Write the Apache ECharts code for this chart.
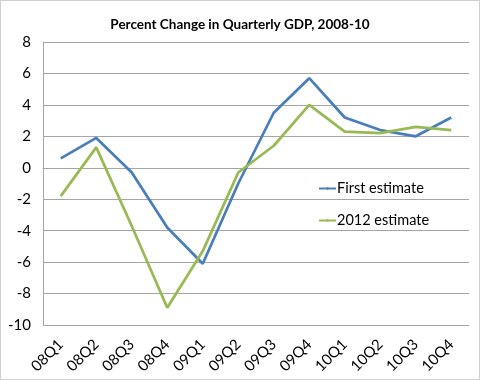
<!DOCTYPE html>
<html><head><meta charset="utf-8">
<script src="https://cdn.jsdelivr.net/npm/echarts@6/dist/echarts.min.js"></script>
<style>html,body{margin:0;padding:0;background:#fff}#c{width:478px;height:378px;border:1px solid #d0d0d0}</style>
</head><body><div id="c"></div>
<script>
var categories = ['08Q1','08Q2','08Q3','08Q4','09Q1','09Q2','09Q3','09Q4','10Q1','10Q2','10Q3','10Q4'];
var firstEstimate = [0.6, 1.9, -0.3, -3.8, -6.1, -1.0, 3.5, 5.7, 3.2, 2.4, 2.0, 3.2];
var estimate2012 = [-1.8, 1.3, -3.7, -8.9, -5.3, -0.3, 1.4, 4.0, 2.3, 2.2, 2.6, 2.4];
var font = 'Lato';
var chart = echarts.init(document.getElementById('c'));
chart.setOption({
  animation: false,
  title: {text: 'Percent Change in Quarterly GDP, 2008-10', left: 'center', top: 12,
    textStyle: {fontFamily: font, fontSize: 13.5, fontWeight: 'bold', color: '#000'}},
  legend: {orient: 'vertical', left: 312, top: 175, itemGap: 17, itemWidth: 17, itemHeight: 3,
    textStyle: {fontFamily: font, fontSize: 14.5, color: '#000', padding: [0,0,0,-4]},
    data: ['First estimate', '2012 estimate']},
  grid: {left: 42, right: 10, top: 41, bottom: 54, containLabel: false},
  xAxis: {type: 'category', data: categories, boundaryGap: true,
    axisLine: {lineStyle: {color: '#a6a6a6'}}, axisTick: {show: false},
    axisLabel: {rotate: 45, fontFamily: font, fontSize: 15, color: '#000', margin: 17, interval: 0}},
  yAxis: {type: 'value', min: -10, max: 8, interval: 2,
    axisLine: {show: true, lineStyle: {color: '#a6a6a6'}}, axisTick: {show: false},
    splitLine: {lineStyle: {color: '#a6a6a6'}},
    axisLabel: {fontFamily: font, fontSize: 15, color: '#000', margin: 12}},
  series: [
    {name: 'First estimate', type: 'line', data: firstEstimate, symbol: 'none',
      lineStyle: {color: '#4a7ebb', width: 2.75}, itemStyle: {color: '#4a7ebb'}},
    {name: '2012 estimate', type: 'line', data: estimate2012, symbol: 'none',
      lineStyle: {color: '#98b954', width: 2.75}, itemStyle: {color: '#98b954'}}
  ]
});
</script></body></html>
